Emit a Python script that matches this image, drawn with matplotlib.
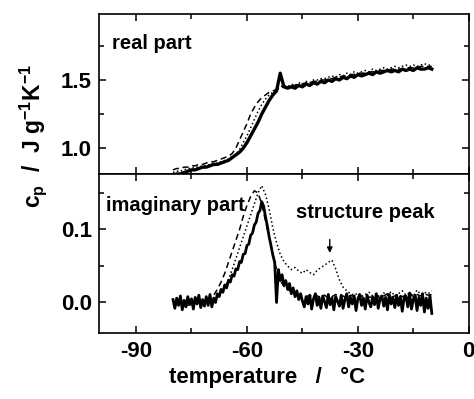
import numpy as np
import matplotlib
matplotlib.use("Agg")
import matplotlib.pyplot as plt
from matplotlib.ticker import MultipleLocator

plt.rcParams['font.family'] = ['Liberation Sans', 'DejaVu Sans']
plt.rcParams['font.weight'] = 'bold'
plt.rcParams['mathtext.fontset'] = 'custom'
plt.rcParams['mathtext.rm'] = 'Liberation Sans:bold'
plt.rcParams['mathtext.bf'] = 'Liberation Sans:bold'
plt.rcParams['mathtext.it'] = 'Liberation Sans:bold'
plt.rcParams['mathtext.default'] = 'bf'

# temperatures (deg C), 1 degree steps
T = np.arange(-80, -9, 1)
# finer grid for the noisy imaginary trace, 0.5 degree steps
T2 = np.arange(-80, -9.75, 0.5)

# real part, solid (noisy)
re_solid = [0.80, 0.81, 0.81, 0.82, 0.83, 0.84, 0.84, 0.85, 0.86, 0.86,
            0.87, 0.88, 0.88, 0.89, 0.90, 0.91, 0.93, 0.95, 0.97, 1.00,
            1.04, 1.09, 1.14, 1.19, 1.25, 1.30, 1.35, 1.39, 1.42, 1.55,
            1.45, 1.44, 1.45, 1.44, 1.46, 1.45, 1.47, 1.46, 1.48, 1.47,
            1.49, 1.48, 1.50, 1.49, 1.51, 1.50, 1.52, 1.51, 1.53, 1.52,
            1.54, 1.53, 1.54, 1.55, 1.54, 1.56, 1.55, 1.56, 1.57, 1.56,
            1.57, 1.56, 1.58, 1.57, 1.58, 1.57, 1.59, 1.58, 1.58, 1.59,
            1.58]
# real part, dashed
re_dash = [0.84, 0.85, 0.85, 0.86, 0.86, 0.87, 0.87, 0.88, 0.88, 0.89,
           0.90, 0.90, 0.91, 0.92, 0.93, 0.94, 0.96, 1.00, 1.06, 1.12,
           1.18, 1.25, 1.30, 1.34, 1.37, 1.39, 1.41, 1.42, 1.43, 1.44,
           1.45, 1.45, 1.46, 1.46, 1.47, 1.47, 1.48, 1.48, 1.49, 1.49,
           1.50, 1.50, 1.51, 1.51, 1.52, 1.52, 1.53, 1.53, 1.54, 1.54,
           1.55, 1.55, 1.55, 1.56, 1.56, 1.56, 1.57, 1.57, 1.57, 1.58,
           1.58, 1.58, 1.58, 1.59, 1.59, 1.59, 1.59, 1.60, 1.60, 1.60,
           1.60]
# real part, dotted
re_dot = [0.82, 0.83, 0.83, 0.84, 0.85, 0.85, 0.86, 0.86, 0.87, 0.87,
          0.88, 0.89, 0.89, 0.90, 0.91, 0.92, 0.94, 0.95, 0.99, 1.04,
          1.09, 1.15, 1.21, 1.27, 1.32, 1.36, 1.39, 1.41, 1.43, 1.45,
          1.46, 1.45, 1.47, 1.46, 1.48, 1.47, 1.49, 1.48, 1.50, 1.50,
          1.51, 1.51, 1.52, 1.53, 1.52, 1.54, 1.53, 1.55, 1.54, 1.56,
          1.55, 1.56, 1.57, 1.56, 1.58, 1.57, 1.58, 1.59, 1.58, 1.59,
          1.60, 1.59, 1.60, 1.61, 1.60, 1.61, 1.60, 1.61, 1.62, 1.61,
          1.61]

# imaginary part, solid (noisy), on T2
im_solid = [0.004, -0.008, 0.006, -0.004, 0.009, -0.010, 0.003, -0.006, 0.008, -0.003,
            0.005, -0.009, 0.007, -0.002, 0.010, -0.007, 0.004, -0.005, 0.008, -0.004,
            0.011, -0.006, 0.006, 0.000, 0.012,
            0.008, 0.018, 0.014, 0.024, 0.020, 0.030, 0.028, 0.038, 0.036, 0.046,
            0.045, 0.056, 0.055, 0.066, 0.067, 0.078, 0.080, 0.092, 0.095, 0.106,
            0.110, 0.122, 0.126, 0.138,
            0.132, 0.118, 0.105, 0.090, 0.078, 0.065, 0.055,
            0.000,
            0.045, 0.030, 0.038, 0.024, 0.030, 0.018, 0.026, 0.012, 0.020, 0.008,
            0.016, 0.004, 0.012, 0.002,
            -0.006, 0.008, -0.002, 0.010, -0.009, 0.005, 0.012, -0.004, 0.007, -0.008,
            0.009, 0.001, -0.007, 0.011, -0.003, 0.006, -0.010, 0.008, 0.002, -0.005,
            0.010, -0.008, 0.004, 0.012, -0.006, 0.007, -0.002, 0.009, -0.011, 0.005,
            0.011, -0.004, 0.006, -0.009, 0.010, 0.000, -0.006, 0.008, -0.003, 0.012,
            -0.008, 0.005, 0.009, -0.005, 0.007, -0.010, 0.011, -0.002, 0.006, -0.007,
            0.010, -0.004, 0.008, -0.012, 0.006, 0.009, -0.006, 0.013, -0.009, 0.004,
            0.010, -0.011, 0.007, -0.004, 0.012, -0.013, 0.006, -0.008, 0.009, -0.015]
# imaginary part, dashed
im_dash = [0.000, 0.002, -0.003, 0.001, 0.003, -0.002, 0.002, 0.004, 0.001, 0.005,
           0.006, 0.010, 0.018, 0.028, 0.040, 0.055, 0.070, 0.085, 0.100, 0.118,
           0.133, 0.145, 0.153, 0.150, 0.135, 0.112, 0.090, 0.066, 0.045, 0.030,
           0.022, 0.018, 0.015, 0.012, 0.010, 0.009, 0.008, 0.010, 0.006, 0.009,
           0.007, 0.010, 0.006, 0.008, 0.011, 0.007, 0.009, 0.006, 0.010, 0.008,
           0.006, 0.009, 0.011, 0.007, 0.008, 0.010, 0.006, 0.009, 0.012, 0.007,
           0.009, 0.011, 0.008, 0.010, 0.013, 0.008, 0.011, 0.009, 0.012, 0.010,
           0.011]
# imaginary part, dotted (with the structure peak)
im_dot = [0.002, -0.003, 0.004, 0.000, -0.004, 0.003, 0.001, -0.002, 0.004, 0.002,
          0.003, 0.005, 0.008, 0.014, 0.020, 0.032, 0.045, 0.060, 0.075, 0.090,
          0.105, 0.120, 0.135, 0.150, 0.160, 0.148, 0.128, 0.102, 0.082, 0.066,
          0.056, 0.050, 0.045, 0.048, 0.043, 0.040, 0.045, 0.041, 0.038, 0.044,
          0.048, 0.051, 0.055, 0.058, 0.046, 0.031, 0.021, 0.016, 0.012, 0.010,
          0.013, 0.008, 0.011, 0.014, 0.009, 0.012, 0.007, 0.013, 0.010, 0.015,
          0.009, 0.012, 0.016, 0.010, 0.013, 0.009, 0.017, 0.011, 0.014, 0.012,
          0.016]

fig = plt.figure(figsize=(4.74, 3.99), dpi=100)
ax1 = fig.add_axes([0.209, 0.564, 0.780, 0.401])
ax2 = fig.add_axes([0.209, 0.165, 0.780, 0.399])

ax1.plot(T, re_dot, color='black', lw=1.1, ls=':')
ax1.plot(T, re_dash, color='black', lw=1.1, ls=(0, (4, 2.5)))
ax1.plot(T, re_solid, color='black', lw=2.4)

ax2.plot(T, im_dot, color='black', lw=1.1, ls=':')
ax2.plot(T, im_dash, color='black', lw=1.1, ls=(0, (4, 2.5)))
ax2.plot(T2, im_solid, color='black', lw=2.0)

ax1.set_xlim(-100, 0)
ax2.set_xlim(-100, 0)
ax1.set_ylim(0.81, 1.985)
ax2.set_ylim(-0.042, 0.176)

for ax in (ax1, ax2):
    ax.xaxis.set_major_locator(MultipleLocator(30))
    ax.xaxis.set_minor_locator(MultipleLocator(15))
    ax.tick_params(which='both', direction='in', top=True, right=True,
                   width=1.1, labelsize=16)
    ax.tick_params(which='major', length=5)
    ax.tick_params(which='minor', length=3.5)
    ax.tick_params(axis='y', pad=5)
    ax.tick_params(axis='x', pad=6)
    for s in ax.spines.values():
        s.set_linewidth(1.2)

ax1.yaxis.set_major_locator(MultipleLocator(0.5))
ax1.yaxis.set_minor_locator(MultipleLocator(0.25))
ax1.set_yticks([1.0, 1.5])
ax1.set_yticklabels(['1.0', '1.5'])
ax1.tick_params(axis='x', labelbottom=False)

ax2.set_yticks([0.0, 0.1])
ax2.set_yticklabels(['0.0', '0.1'])
ax2.yaxis.set_minor_locator(MultipleLocator(0.05))
ax2.set_xticks([-90, -60, -30, 0])
ax2.set_xticklabels(['-90', '-60', '-30', '0'])

ax1.text(-96.5, 1.77, 'real part', fontsize=14.5, fontweight='bold', va='center')
ax2.text(-98, 0.133, 'imaginary part', fontsize=14.5, fontweight='bold', va='center')
ax2.text(-28, 0.123, 'structure peak', fontsize=14.5, fontweight='bold',
         ha='center', va='center')
ax2.annotate('', xy=(-37.6, 0.064), xytext=(-37.6, 0.090),
             arrowprops=dict(arrowstyle='-|>', color='black', lw=1.0,
                             mutation_scale=8))

fig.text(0.564, 0.053, 'temperature   /   °C', fontsize=16, fontweight='bold',
         ha='center', va='center')
fig.text(0.07, 0.66, r'$c_p$  /  J g$^{-1}$K$^{-1}$', fontsize=16.5,
         rotation=90, ha='center', va='center')

fig.savefig('out.png', dpi=100)
